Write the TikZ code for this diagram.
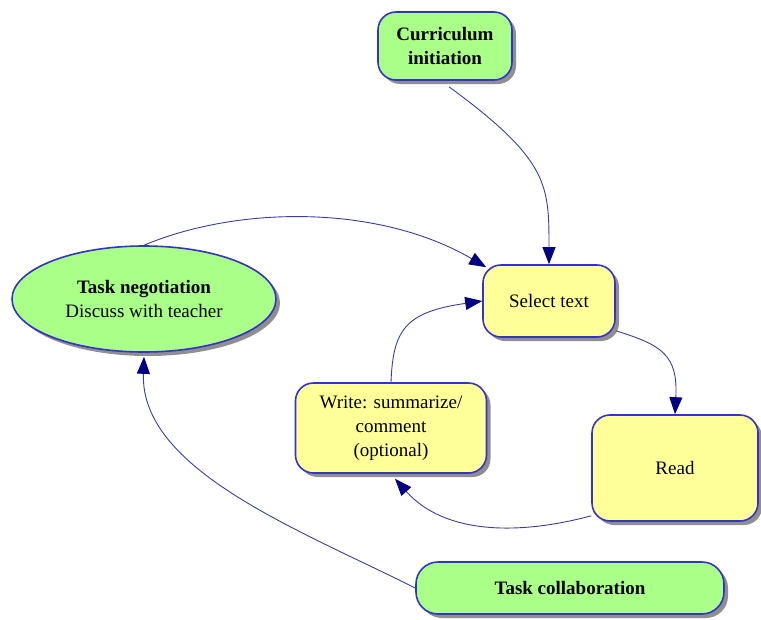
\documentclass[tikz,border=0pt]{standalone}
\usepackage{fontspec}
\setmainfont{Liberation Serif}
\usetikzlibrary{arrows.meta,shapes.geometric,shadows}
\definecolor{boxgreen}{RGB}{170,255,136}
\definecolor{boxyellow}{RGB}{255,255,153}
\definecolor{boxline}{RGB}{51,51,204}
\definecolor{wire}{RGB}{60,60,160}
\definecolor{tipnavy}{RGB}{0,0,128}
\tikzset{
  box/.style={draw=boxline, line width=1.6pt, rounded corners=18pt, inner sep=0pt,
    align=center, font=\fontsize{19}{24}\selectfont,
    drop shadow={shadow xshift=4pt, shadow yshift=-4pt, fill=black!55, opacity=0.8}},
  greenbox/.style={box, fill=boxgreen, font=\fontsize{19}{24}\selectfont\bfseries},
  yellowbox/.style={box, fill=boxyellow},
  oval/.style={ellipse, draw=boxline, line width=1.6pt, fill=boxgreen, inner sep=0pt,
    align=center, font=\fontsize{19}{24}\selectfont,
    drop shadow={shadow xshift=4pt, shadow yshift=-4pt, fill=black!55, opacity=0.8}},
  link/.style={draw=wire, line width=0.9pt,
    -{Triangle[length=17pt,width=13pt,color=tipnavy]}}
}
\begin{document}
\begin{tikzpicture}[x=1pt,y=-1pt]
\useasboundingbox (0,0) rectangle (761,619);

% nodes
\node[greenbox, minimum width=134pt, minimum height=68pt] (cur) at (445,46) {Curriculum\\initiation};
\node[oval, minimum width=264pt, minimum height=106pt] (neg) at (144,299) {\textbf{Task negotiation}\\Discuss with teacher};
\node[yellowbox, minimum width=132pt, minimum height=72pt] (sel) at (549,301) {Select text};
\node[yellowbox, minimum width=191pt, minimum height=90pt] (wr) at (391,428) {Write: summarize/\\comment\\(optional)};
\node[yellowbox, minimum width=166pt, minimum height=106pt] (rd) at (675,468) {Read};
\node[greenbox, rounded corners=22pt, minimum width=308pt, minimum height=52pt] (tc) at (570,588) {Task collaboration};

% connectors
\draw[link] ([xshift=4pt,yshift=-6pt]cur.south) .. controls (549,160) and (549,185) .. (sel.north);
\draw[link] (neg.north) .. controls (240,205) and (380,205) .. ([xshift=4pt,yshift=-3pt]sel.north west);
\draw[link] (wr.north) .. controls (393,330) and (405,312) .. (sel.west);
\draw[link] ([yshift=7pt]sel.south east) .. controls (662,345) and (678,355) .. (rd.north);
\draw[link] ([yshift=6pt]rd.south west) .. controls (520,535) and (445,535) .. ([xshift=4pt,yshift=-5pt]wr.south);
\draw[link] (tc.west) .. controls (300,530) and (140,470) .. ([yshift=-4pt]neg.south);
\end{tikzpicture}
\end{document}
